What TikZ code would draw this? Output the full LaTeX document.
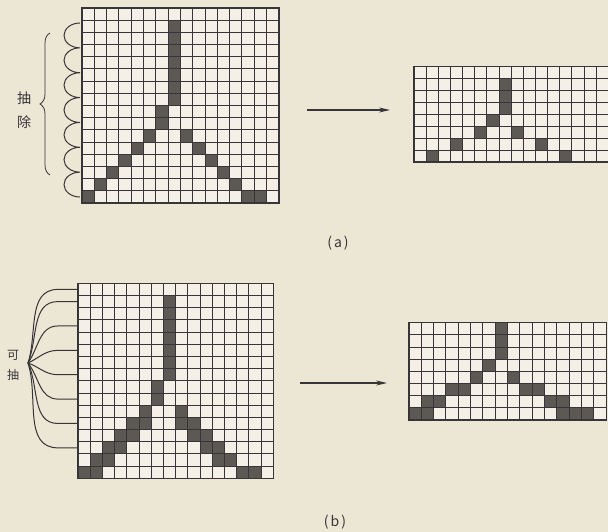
\documentclass[tikz,border=0pt]{standalone}
\usepackage{fontspec}
\newfontfamily\cjk{Noto Sans CJK SC}
\usepackage{tikz}
\usetikzlibrary{arrows.meta,calc,decorations.pathreplacing}
\definecolor{paper}{RGB}{236,230,213}
\definecolor{cellbg}{RGB}{244,240,231}
\definecolor{ink}{RGB}{55,53,56}
\definecolor{inkfill}{RGB}{92,88,84}

\begin{document}
\begin{tikzpicture}[x=1pt, y=1pt,
    gridline/.style={draw=ink, line width=1pt},
    gridframe/.style={draw=ink, line width=1.4pt},
    darkcell/.style={fill=inkfill},
    scallop/.style={draw=ink, line width=1pt},
    fanline/.style={draw=ink, line width=1pt},
    flowarrow/.style={-{Stealth[length=11pt,width=5pt]}, draw=ink, line width=1.1pt},
    cjktext/.style={font=\cjk\fontsize{14}{24}\selectfont, text=ink, align=center, inner sep=0pt},
    captext/.style={font=\cjk\fontsize{14}{16}\selectfont, text=ink, inner sep=0pt}
]
    \fill[paper] (0,0) rectangle (608,532);
    \useasboundingbox (0,0) rectangle (608,532);

    % (a) original grid
    \begin{scope}[shift={(82,524)}, x=12.3pt, y=-12.2pt]
        \fill[cellbg] (0,0) rectangle (16,16);
        \foreach \cx/\cy in {7/1,7/2,7/3,7/4,7/5,7/6,7/7,6/8,6/9,5/10,4/11,3/12,2/13,1/14,0/15,
                             8/10,9/11,10/12,11/13,12/14,13/15,14/15}
            \fill[darkcell] (\cx,\cy) rectangle ++(1,1);
        \foreach \i in {1,...,15} \draw[gridline] (\i,0) -- (\i,16);
        \foreach \i in {1,...,15} \draw[gridline] (0,\i) -- (16,\i);
        \draw[gridframe] (0,0) rectangle (16,16);
    \end{scope}

    % (a) reduced grid
    \begin{scope}[shift={(414,465.5)}, x=12.15pt, y=-11.95pt]
        \fill[cellbg] (0,0) rectangle (16,8);
        \foreach \cx/\cy in {7/1,7/2,7/3,6/4,5/5,8/5,3/6,10/6,1/7,12/7}
            \fill[darkcell] (\cx,\cy) rectangle ++(1,1);
        \foreach \i in {1,...,15} \draw[gridline] (\i,0) -- (\i,8);
        \foreach \i in {1,...,7} \draw[gridline] (0,\i) -- (16,\i);
        \draw[gridframe] (0,0) rectangle (16,8);
    \end{scope}

    % (b) original grid
    \begin{scope}[shift={(78,248.7)}, x=12.2pt, y=-12.19pt]
        \fill[cellbg] (0,0) rectangle (16,16);
        \foreach \cx/\cy in {7/1,7/2,7/3,7/4,7/5,7/6,7/7,6/8,6/9,5/10,8/10,
                             4/11,5/11,8/11,9/11,3/12,4/12,9/12,10/12,2/13,3/13,10/13,11/13,
                             1/14,2/14,11/14,12/14,0/15,1/15,13/15,14/15}
            \fill[darkcell] (\cx,\cy) rectangle ++(1,1);
        \foreach \i in {1,...,15} \draw[gridline] (\i,0) -- (\i,16);
        \foreach \i in {1,...,15} \draw[gridline] (0,\i) -- (16,\i);
        \draw[gridframe] (0,0) rectangle (16,16);
    \end{scope}

    % (b) reduced grid
    \begin{scope}[shift={(409,209.3)}, x=12.33pt, y=-12.17pt]
        \fill[cellbg] (0,0) rectangle (16,8);
        \foreach \cx/\cy in {7/0,7/1,7/2,6/3,5/4,8/4,3/5,4/5,9/5,10/5,
                             1/6,2/6,11/6,12/6,0/7,1/7,12/7,13/7,14/7}
            \fill[darkcell] (\cx,\cy) rectangle ++(1,1);
        \foreach \i in {1,...,15} \draw[gridline] (\i,0) -- (\i,8);
        \foreach \i in {1,...,7} \draw[gridline] (0,\i) -- (16,\i);
        \draw[gridframe] (0,0) rectangle (16,8);
    \end{scope}

    % Scallops and brace of (a)
    \draw[scallop] (80,509) \foreach \k in {1,...,7} {arc[start angle=90, end angle=270, x radius=16pt, y radius=12.43pt]};
    \draw[scallop, line width=0.8pt, decorate, decoration={brace, amplitude=10pt}] (50,357) -- (50,499);
    \node[cjktext] (pick) at (24,422) {抽\\除};

    % Fan of (b)
    \coordinate (fan) at (28,169);
    \foreach \rw/\ang in {0/72,1/68,3/55,5/25,7/-20,9/-52,11/-65,13/-72} {
        \coordinate (fe\rw) at (78,{248.7-12.19*(\rw+0.5)});
        \draw[fanline] (fan) to[out=\ang, in=180] ($(fe\rw)+(-20,0)$) -- (fe\rw);
    }
    \node[cjktext, font=\cjk\fontsize{12}{20}\selectfont] (canpick) at (13,167) {可\\抽};

    % Arrows
    \coordinate (aS) at (307,422);
    \coordinate (aE) at (390,422);
    \coordinate (bS) at (300,149);
    \coordinate (bE) at (387,149);
    \draw[flowarrow] (aS) -- (aE);
    \draw[flowarrow] (bS) -- (bE);

    % Captions
    \node[captext] (capA) at (338,289) {(\hspace{2pt}a\hspace{2pt})};
    \node[captext] (capB) at (335,10) {(\hspace{2pt}b\hspace{2pt})};
\end{tikzpicture}
\end{document}
